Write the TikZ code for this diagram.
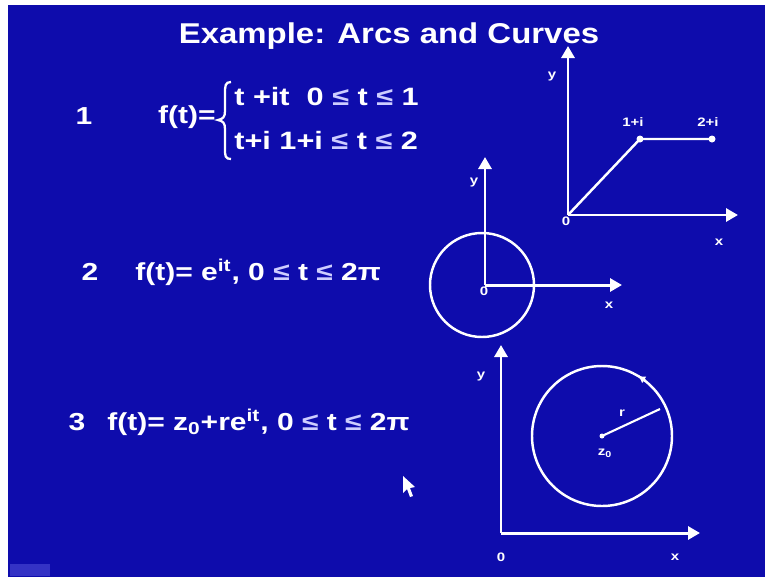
\documentclass[tikz,border=0pt]{standalone}
\usepackage{fontspec}
\newfontfamily\slidefont{Liberation Sans}[FakeStretch=1.22]
\newfontfamily\titlefont{Liberation Sans}[FakeStretch=1.15]
\usepackage{xcolor}
\usepackage{tikz}
\usetikzlibrary{arrows.meta}
\definecolor{slideblue}{RGB}{14,12,172}
\definecolor{leqtint}{RGB}{205,205,255}
\newcommand{\lesym}{{\color{leqtint}≤}}

\begin{document}
\begin{tikzpicture}[x=0.02cm, y=-0.02cm,
  slidetext/.style={text=white, font=\slidefont\bfseries\fontsize{14}{16}\selectfont, inner sep=0pt},
  smalllbl/.style={text=white, font=\slidefont\bfseries\fontsize{7}{8}\selectfont, inner sep=0pt},
  axis/.style={draw=white, line width=1.7pt, -{Triangle[length=2.4mm, width=2.6mm]}},
  curve/.style={draw=white, line width=1.4pt}]
  \useasboundingbox (0,0) rectangle (765,579);
  \fill[white] (0,0) rectangle (765,579);
  \fill[slideblue] (8,5) rectangle (765,577);
  \fill[blue!45!white, opacity=0.3] (10,564) rectangle (50,576);

  %% Title
  \node[slidetext, font=\titlefont\bfseries\fontsize{16.3}{18}\selectfont, anchor=base] (title) at (389,43) {Example: Arcs and Curves};

  %% Formulas
  \node[slidetext] (num1) at (84,116) {1};
  \node[slidetext, anchor=east] (f1) at (216,117) {f(t)=};
  \draw[white, line width=1.3pt] (231,82) .. controls (225,82) and (225,86) .. (225,94)
    -- (225,111) .. controls (225,117) and (223,119) .. (218,120)
    .. controls (223,121) and (225,123) .. (225,129)
    -- (225,148) .. controls (225,156) and (225,159) .. (231,159);
  \node[slidetext, font=\slidefont\bfseries\fontsize{14.3}{16}\selectfont, anchor=west] (case1) at (234,97) {t +it\ \ 0 \lesym{} t \lesym{} 1};
  \node[slidetext, font=\slidefont\bfseries\fontsize{14.3}{16}\selectfont, anchor=west] (case2) at (234,141) {t+i 1+i \lesym{} t \lesym{} 2};

  \node[slidetext] (num2) at (90,272) {2};
  \node[slidetext, anchor=west] (f2) at (135,272) {f(t)= e\textsuperscript{it}, 0 \lesym{} t \lesym{} 2π};

  \node[slidetext] (num3) at (77,422) {3};
  \node[slidetext, anchor=west] (f3) at (107,422) {f(t)= z\textsubscript{0}+re\textsuperscript{it}, 0 \lesym{} t \lesym{} 2π};

  %% Graph 1: polygonal path
  \coordinate (o1) at (568,215);
  \coordinate (y1) at (568,46);
  \coordinate (x1) at (738,215);
  \coordinate (p1) at (640,139);
  \coordinate (p2) at (712,139);
  \draw[axis] (o1) -- (y1);
  \draw[axis] (o1) -- (x1);
  \draw[curve] (o1) -- (p1) -- (p2);
  \fill[white] (p1) circle (3.5) (p2) circle (3.5);
  \node[smalllbl] (ylbl1) at (552,77) {y};
  \node[smalllbl] (olbl1) at (566,221) {0};
  \node[smalllbl] (xlbl1) at (719,242) {x};
  \node[smalllbl] (plbl1) at (633,122) {1+i};
  \node[smalllbl] (plbl2) at (708,122) {2+i};

  %% Graph 2: unit circle
  \coordinate (o2) at (485,285);
  \coordinate (y2) at (485,157);
  \coordinate (x2) at (622,285);
  \draw[curve] (482,285) circle (52);
  \draw[axis] (o2) -- (y2);
  \draw[axis] (o2) -- (x2);
  \node[smalllbl] (ylbl2) at (474,183) {y};
  \node[smalllbl] (olbl2) at (484,291) {0};
  \node[smalllbl] (xlbl2) at (609,305) {x};

  %% Graph 3: circle about z0
  \coordinate (o3) at (501,533);
  \coordinate (y3) at (501,345);
  \coordinate (x3) at (700,533);
  \coordinate (z0) at (602,436);
  \coordinate (rend) at (660,409);
  \draw[axis] (o3) -- (y3);
  \draw[axis] (o3) -- (x3);
  \draw[curve] (z0) circle (70);
  \draw[curve, -{Triangle[length=1.2mm, width=1.4mm]}] (z0) ++(-52:70) arc (-52:-58:70);
  \draw[curve, line width=1.2pt] (z0) -- (rend);
  \fill[white] (z0) circle (2.5);
  \node[smalllbl] (rlbl) at (622,413) {r};
  \node[smalllbl] (zlbl) at (605,453) {z\textsubscript{0}};
  \node[smalllbl] (ylbl3) at (481,377) {y};
  \node[smalllbl] (olbl3) at (501,557) {0};
  \node[smalllbl] (xlbl3) at (675,557) {x};

  %% Mouse pointer
  \fill[white] (403,476) -- (403,493) -- (407,489) -- (410,497) -- (413,496) -- (410,488) -- (415,487) -- cycle;
\end{tikzpicture}
\end{document}
